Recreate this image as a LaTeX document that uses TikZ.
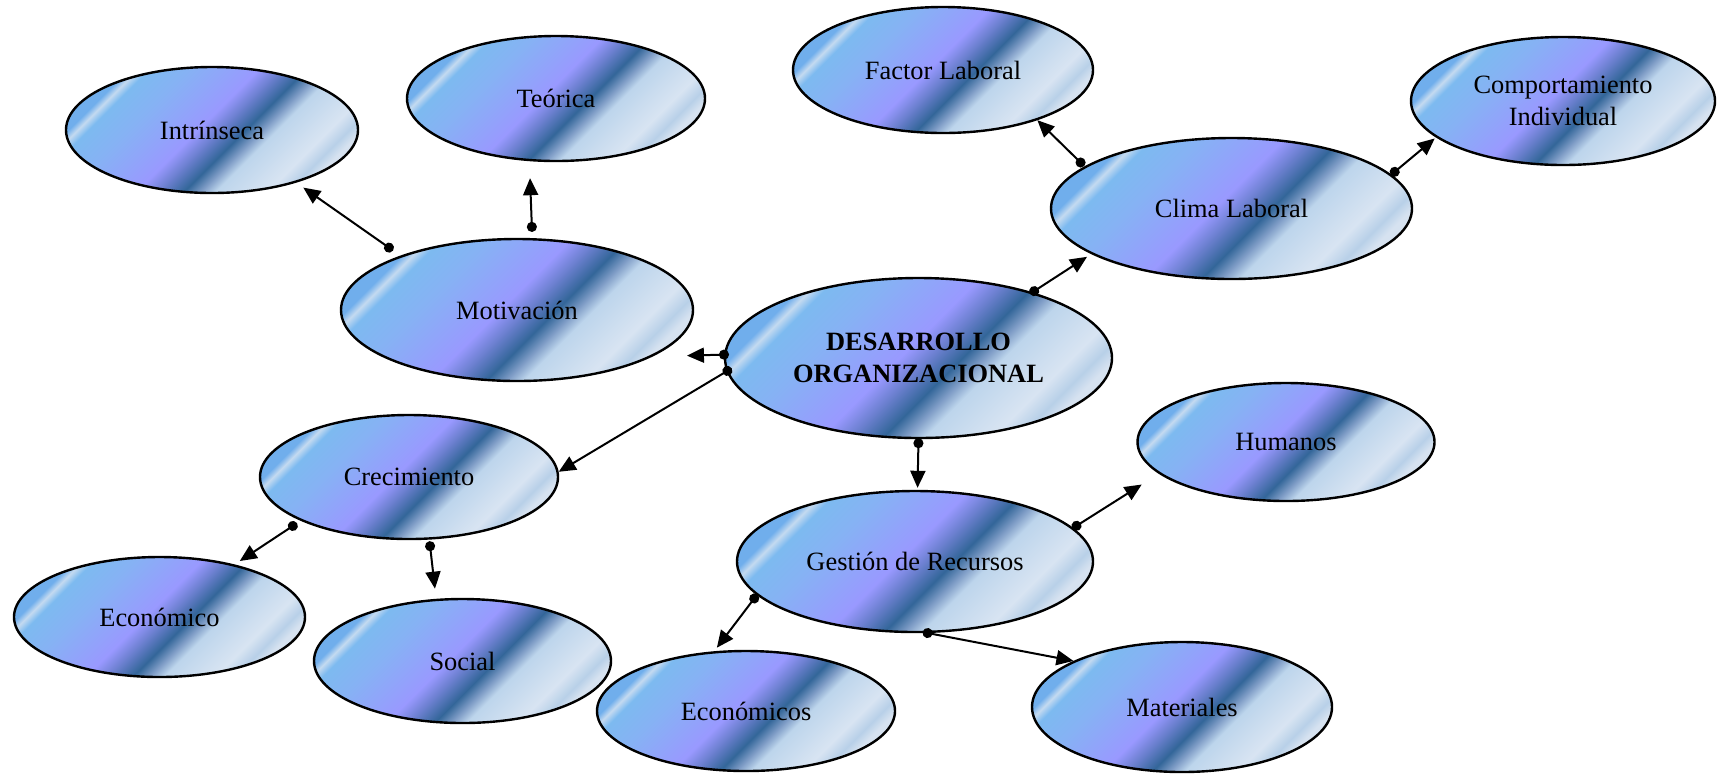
\documentclass[tikz,border=0pt]{standalone}
\usepackage{fontspec}
\setmainfont{Liberation Serif}
\usetikzlibrary{shapes.geometric,arrows.meta,calc}

% colours of the diagonal fill
\definecolor{cwA}{HTML}{70AEEC}
\definecolor{cwS}{HTML}{C4DAF0}
\definecolor{cwB}{HTML}{7DBAF0}
\definecolor{cwC}{HTML}{86B2F4}
\definecolor{cwP}{HTML}{9999FF}
\definecolor{cwM}{HTML}{6C80D0}
\definecolor{cwD}{HTML}{336699}
\definecolor{cwE}{HTML}{7E9CC6}
\definecolor{cwF}{HTML}{BDD5EC}
\definecolor{cwG}{HTML}{D8E4F2}
\definecolor{cwH}{HTML}{B8D0E8}
\definecolor{cwI}{HTML}{D6E2F0}

% diagonal fill; the middle 50bp span the bubble's box measured along the diagonal
\pgfdeclarehorizontalshading{calmwater}{100bp}{%
  color(0bp)=(cwA); color(32.8bp)=(cwA); color(33.9bp)=(cwS); color(35.2bp)=(cwB);
  color(40bp)=(cwC); color(48.3bp)=(cwP); color(51bp)=(cwM); color(54bp)=(cwD);
  color(56bp)=(cwE); color(57.8bp)=(cwF); color(64bp)=(cwG); color(66.4bp)=(cwH);
  color(68bp)=(cwI); color(100bp)=(cwI)}

\tikzset{
  bubble/.style={ellipse, draw=black, line width=1.2pt, inner sep=0pt,
    align=center, text=black, font=\fontsize{13.2pt}{15.8pt}\selectfont,
    path picture={
      \begin{scope}[transform canvas={rotate around={-45:(path picture bounding box.center)}}]
        \shade[shading=calmwater]
          let \p1=(path picture bounding box.south west),
              \p2=(path picture bounding box.north east),
              \n1={0.7071*(abs(\x2-\x1)+abs(\y2-\y1))/2}
          in ($(path picture bounding box.center)+(-\n1,-2*\n1)$)
             rectangle ($(path picture bounding box.center)+(\n1,2*\n1)$);
      \end{scope}}},
  link/.style={line width=1pt, {Circle[length=5pt]}-{Triangle[length=8.5pt,width=7.5pt]}},
}

\begin{document}
\begin{tikzpicture}[x=0.5pt,y=-0.5pt]
\useasboundingbox (0,0) rectangle (1717,773);

% concept bubbles (sizes in pt = half the pixel diameter)
\node[bubble, minimum width=146pt, minimum height=63pt] (intr) at (212,130) {Intrínseca};
\node[bubble, minimum width=149pt, minimum height=62.5pt] (teo) at (556,98.5) {Teórica};
\node[bubble, minimum width=150pt, minimum height=63pt] (factor) at (943,70) {Factor Laboral};
\node[bubble, minimum width=152pt, minimum height=64pt] (comp) at (1563,101) {Comportamiento\\Individual};
\node[bubble, minimum width=180.5pt, minimum height=70.5pt] (clima) at (1231.5,208.5) {Clima Laboral};
\node[bubble, minimum width=176pt, minimum height=71pt] (mot) at (517,310) {Motivación};
\node[bubble, minimum width=193.5pt, minimum height=80pt, font=\fontsize{13.2pt}{15.8pt}\selectfont\bfseries] (des) at (918.5,358) {DESARROLLO\\ORGANIZACIONAL};
\node[bubble, minimum width=148.5pt, minimum height=59pt] (hum) at (1286,442) {Humanos};
\node[bubble, minimum width=149pt, minimum height=62pt] (crec) at (409,477) {Crecimiento};
\node[bubble, minimum width=178pt, minimum height=70.5pt] (gest) at (915,561.5) {Gestión de Recursos};
\node[bubble, minimum width=145.5pt, minimum height=60pt] (econ) at (159.5,617) {Económico};
\node[bubble, minimum width=148.5pt, minimum height=62pt] (soc) at (462.5,661) {Social};
\node[bubble, minimum width=149pt, minimum height=60pt] (econs) at (746,711) {Económicos};
\node[bubble, minimum width=150pt, minimum height=65pt] (mat) at (1182,707) {Materiales};

% connectors: dot just off the source border, head a little short of the target
\draw[link] ($(mot.155.8)!4.5pt!(intr.-32.2)$) -- ($(intr.-32.2)!4.3pt!(mot.155.8)$);
\draw[link] ($(mot.78.8)!3.1pt!(teo.247.9)$) -- ($(teo.247.9)!8.5pt!(mot.78.8)$);
\draw[link] ($(clima.164)!0.25pt!(factor.-28.4)$) -- (factor.-28.4);
\draw[link] ($(clima.12.5)!-0.4pt!(comp.-164.3)$) -- ($(comp.-164.3)!0.8pt!(clima.12.5)$);
\draw[link] ($(des.30.2)!-1.5pt!(clima.198.5)$) -- ($(clima.198.5)!2.5pt!(des.30.2)$);
\draw[link] ($(des.179.4)!-2.5pt!(mot.-19.1)$) -- ($(mot.-19.1)!17.3pt!(des.179.4)$);
\draw[link] ($(des.184.2)!-3pt!(crec.2.7)$) -- (crec.2.7);
\draw[link] ($(des.-90)!-0.5pt!(gest.88.7)$) -- ($(gest.88.7)!1pt!(des.-90)$);
\draw[link] ($(crec.202.7)!2.2pt!(econ.35)$) -- ($(econ.35)!3.1pt!(crec.202.7)$);
\draw[link] ($(crec.-72.7)!0.8pt!(soc.113.5)$) -- ($(soc.113.5)!5.1pt!(crec.-72.7)$);
\draw[link] ($(gest.12)!-0.55pt!(hum.194)$) -- ($(hum.194)!10.1pt!(gest.12)$);
\draw[link] ($(gest.192.9)!-0.4pt!(econs.118.5)$) -- ($(econs.118.5)!2.2pt!(gest.192.9)$);
\draw[link] ($(gest.-80.3)!-2.5pt!(mat.157)$) -- (mat.157);
\end{tikzpicture}
\end{document}
